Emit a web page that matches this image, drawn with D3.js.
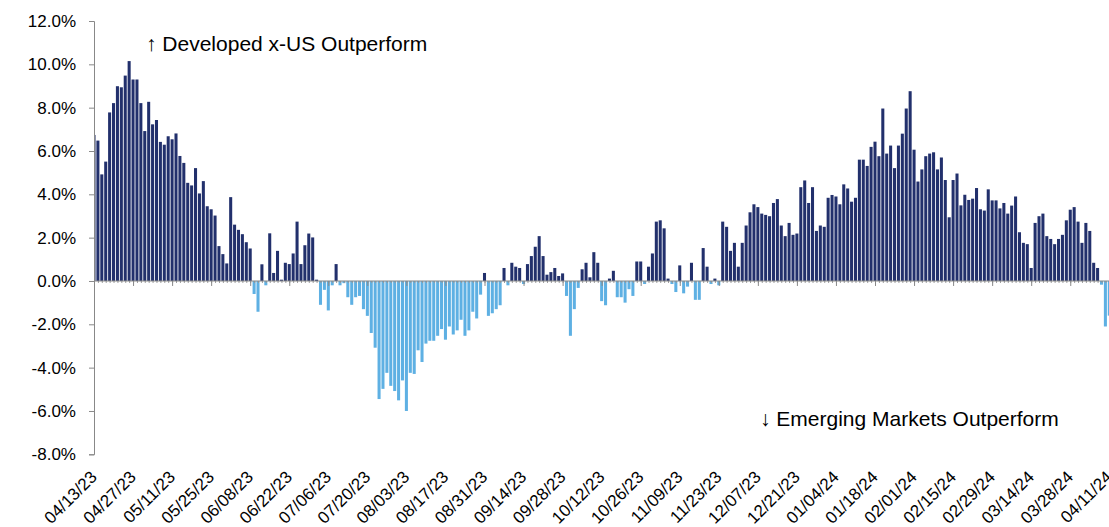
<!DOCTYPE html>
<html>
<head>
<meta charset="utf-8">
<script src="https://cdnjs.cloudflare.com/ajax/libs/d3/7.8.5/d3.min.js"></script>
<style>
  body { margin: 0; background: #fff; }
  svg { display: block; font-family: "Liberation Sans", Arial, sans-serif; }
  .ylab { font-size: 17px; fill: #000; }
  .xlab { font-size: 17px; fill: #000; }
  .note { font-size: 21px; fill: #000; }
</style>
</head>
<body>
<svg id="chart" width="1109" height="527"></svg>
<script>
// daily spread (Developed x-US minus EM), in %, one value per weekday from 04/13/23 to 04/11/24
const firstDay = '2023-04-13'
const lastDay = '2024-04-11'

const spread = [
  6.74, 6.48, 4.92, 5.51, 7.78, 8.21, 8.99, 8.94, 9.48, 10.15,
  9.30, 9.30, 8.21, 6.92, 8.27, 7.23, 7.43, 6.42, 6.29, 6.68,
  6.54, 6.81, 5.77, 5.45, 4.53, 4.41, 5.21, 4.04, 4.61, 3.45,
  3.31, 3.02, 1.61, 1.24, 0.81, 3.87, 2.60, 2.36, 2.16, 1.79,
  1.50, -0.60, -1.42, 0.77, -0.20, 2.20, 0.37, 1.39, 0.06, 0.84,
  0.78, 1.27, 2.74, 0.78, 1.65, 2.19, 2.01, 0.06, -1.10, -0.41,
  -1.36, -0.20, 0.78, -0.20, -0.10, -0.75, -1.10, -0.75, -0.69, -1.30,
  -1.61, -2.40, -3.08, -5.45, -4.98, -4.24, -4.84, -5.08, -5.51, -4.59,
  -6.00, -4.24, -4.29, -3.20, -3.74, -2.89, -2.76, -2.76, -2.53, -2.22,
  -2.71, -2.10, -2.47, -2.28, -1.79, -2.53, -2.28, -1.42, -1.73, -0.63,
  0.37, -1.61, -1.49, -1.30, -1.12, 0.60, -0.20, 0.84, 0.66, 0.60,
  -0.14, 0.78, 1.15, 1.58, 2.07, 1.15, 0.29, 0.41, 0.60, 0.23,
  0.35, -0.69, -2.53, -1.30, -0.32, 0.54, 0.84, 0.17, 1.33, 0.84,
  -0.93, -1.12, 0.11, 0.47, -0.75, -0.75, -1.00, -0.38, -0.69, 0.90,
  0.90, -0.14, 0.66, 1.27, 2.74, 2.80, 2.43, 0.11, -0.14, -0.51,
  0.72, -0.57, -0.26, 0.84, -0.87, -0.87, 1.52, 0.66, -0.14, 0.11,
  -0.20, 2.74, 2.50, 1.39, 1.76, 0.66, 1.76, 2.56, 3.17, 3.54,
  3.41, 3.11, 3.05, 2.99, 3.60, 3.78, 2.56, 2.07, 2.68, 2.13,
  2.19, 4.33, 4.64, 3.60, 4.33, 2.31, 2.56, 2.50, 3.84, 3.97,
  3.90, 3.54, 4.46, 4.27, 3.66, 3.84, 5.60, 5.60, 5.31, 6.19,
  6.43, 5.76, 7.96, 5.88, 6.25, 5.21, 6.25, 6.80, 7.96, 8.76,
  6.06, 4.59, 5.15, 5.76, 5.88, 5.94, 5.15, 5.70, 4.66, 2.94,
  4.66, 4.96, 3.49, 3.98, 3.74, 3.80, 4.29, 3.31, 3.25, 4.23,
  3.72, 3.72, 3.35, 3.60, 3.11, 3.48, 3.90, 2.25, 1.76, 1.70,
  0.60, 2.68, 2.99, 3.11, 2.07, 1.94, 1.70, 1.94, 2.13, 2.80,
  3.29, 3.41, 2.74, 1.76, 2.68, 2.31, 0.84, 0.60, -0.17, -2.10,
  -1.60
]

const yTicks = [-8, -6, -4, -2, 0, 2, 4, 6, 8, 10, 12]
const noteUp = '↑ Developed x-US Outperform'
const noteDown = '↓ Emerging Markets Outperform'

const parse = d3.timeParse('%Y-%m-%d')
const fmt = d3.timeFormat('%m/%d/%y')

// weekdays only, like the source sheet
const days = d3.timeDay.range(parse(firstDay), d3.timeDay.offset(parse(lastDay), 1))
  .filter(d => d.getDay() !== 0 && d.getDay() !== 6)
  .map(fmt)

const data = days.map((d, i) => ({date: d, value: spread[i]}))

const svg = d3.select('#chart')

const plotLeft = 94
const step = 3.905
const plotRight = plotLeft + step * (days.length - 1)
const plotTop = 21
const plotBottom = 454.3

const x = d3.scalePoint()
  .domain(days)
  .range([plotLeft, plotRight])

const y = d3.scaleLinear()
  .domain([-8, 12])
  .range([plotBottom, plotTop])

svg.append('clipPath')
  .attr('id', 'plot')
  .append('rect')
  .attr('x', plotLeft)
  .attr('y', 0)
  .attr('width', plotRight - plotLeft)
  .attr('height', 527)

const barW = step * 0.78

svg.append('g')
  .attr('clip-path', 'url(#plot)')
  .selectAll('rect')
  .data(data)
  .enter()
  .append('rect')
  .attr('x', d => x(d.date) - barW / 2)
  .attr('y', d => y(Math.max(0, d.value)))
  .attr('width', barW)
  .attr('height', d => Math.abs(y(d.value) - y(0)))
  .attr('fill', d => d.value >= 0 ? '#22306c' : '#5eb0e3')

// y axis
const yAxis = svg.append('g')
  .attr('transform', `translate(${plotLeft},0)`)
  .call(d3.axisLeft(y)
    .tickValues(yTicks)
    .tickSize(5)
    .tickPadding(13)
    .tickFormat(d => d.toFixed(1) + '%'))

yAxis.attr('font-size', null).attr('font-family', null)
yAxis.select('.domain').attr('stroke', '#888')
yAxis.selectAll('.tick line').attr('stroke', '#888')
yAxis.selectAll('.tick text').attr('class', 'ylab')

// x axis on the zero line: small tick per day, bigger one every 10 days
const labelled = days.filter((d, i) => i % 10 === 0)

const xAxis = svg.append('g')
  .attr('transform', `translate(0,${y(0)})`)

xAxis.append('g')
  .call(d3.axisBottom(x).tickValues(days).tickSize(2).tickFormat(''))
  .call(g => g.select('.domain').remove())
  .selectAll('line').attr('stroke', '#999')

xAxis.append('g')
  .call(d3.axisBottom(x).tickValues(labelled).tickSize(5).tickFormat(''))
  .call(g => g.select('.domain').remove())
  .selectAll('line').attr('stroke', '#888')

xAxis.append('line')
  .attr('x1', plotLeft)
  .attr('x2', plotRight)
  .attr('stroke', '#888')
  .attr('stroke-width', 1.2)

// date labels at the foot of the chart
svg.append('g')
  .selectAll('text')
  .data(labelled)
  .enter()
  .append('text')
  .attr('class', 'xlab')
  .attr('text-anchor', 'end')
  .attr('transform', d => `translate(${x(d) + 4},478) rotate(-45)`)
  .text(d => d)

svg.append('text')
  .attr('class', 'note')
  .attr('x', 146)
  .attr('y', 51)
  .text(noteUp)

svg.append('text')
  .attr('class', 'note')
  .attr('x', 760)
  .attr('y', 426)
  .text(noteDown)
</script>
</body>
</html>
